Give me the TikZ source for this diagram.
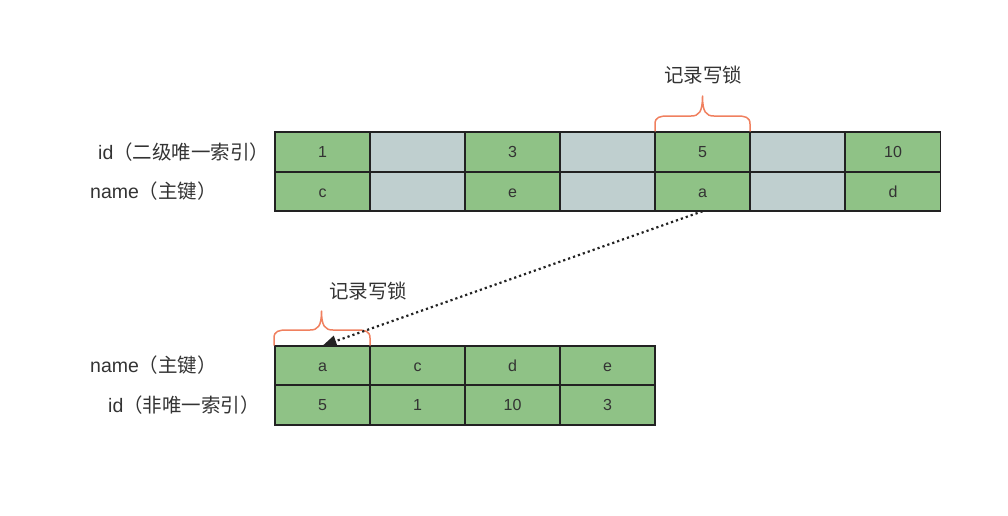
\documentclass[tikz,border=0pt]{standalone}
\usepackage{fontspec}
\setmainfont{Liberation Sans}
\newfontfamily\cjk{Noto Sans CJK SC}
\usetikzlibrary{arrows.meta,positioning}
\definecolor{cellgreen}{HTML}{8FC286}
\definecolor{cellgray}{HTML}{BFCFCF}
\definecolor{bracecol}{HTML}{F0805F}
\definecolor{txt}{HTML}{333333}
\definecolor{edge}{HTML}{222222}
\tikzset{
  cell/.style={draw=edge, line width=1.6pt, fill=cellgreen, minimum width=95pt,
    minimum height=39.5pt, inner sep=0pt, outer sep=0pt, text=txt,
    text height=11.5pt, text depth=0pt, font=\fontsize{16}{19}\selectfont},
  gapcell/.style={cell, fill=cellgray},
  lbl/.style={text=txt, font=\fontsize{19.5}{23}\selectfont, inner sep=0pt},
  lockbrace/.style={draw=bracecol, line width=1.5pt, line cap=round, line join=round},
  dotarrow/.style={draw=edge, line width=2.2pt, dash pattern=on 2.2pt off 3pt,
    -{Triangle[length=14pt,width=11pt]}}
}
\begin{document}
\begin{tikzpicture}[x=1pt,y=-1pt]
    \useasboundingbox (0,0) rectangle (1008,515);

    % secondary unique index
    \node[lbl,anchor=west] (idlbl) at (98,152) {id{\cjk（二级唯一索引）}};
    \node[lbl,anchor=west] (namelbl) at (90,191) {name{\cjk（主键）}};
    \node[cell] (t1a) at (322.5,152) {1};
    \node[cell] (t1b) at (322.5,191.5) {c};
    \node[gapcell] (t2a) at (417.5,152) {};
    \node[gapcell] (t2b) at (417.5,191.5) {};
    \node[cell] (t3a) at (512.5,152) {3};
    \node[cell] (t3b) at (512.5,191.5) {e};
    \node[gapcell] (t4a) at (607.5,152) {};
    \node[gapcell] (t4b) at (607.5,191.5) {};
    \node[cell] (t5a) at (702.5,152) {5};
    \node[cell] (t5b) at (702.5,191.5) {a};
    \node[gapcell] (t6a) at (797.5,152) {};
    \node[gapcell] (t6b) at (797.5,191.5) {};
    \node[cell] (t7a) at (893,152) {10};
    \node[cell] (t7b) at (893,191.5) {d};

    \draw[lockbrace] (655,131) -- (655,124) .. controls (655,117) and (660,116) .. (668,116)
        -- (691,116) .. controls (699,116) and (702.5,112) .. (702.5,96)
        .. controls (702.5,112) and (706,116) .. (714,116) -- (737,116)
        .. controls (745,116) and (750,117) .. (750,124) -- (750,131);
    \node[lbl] (lock1) at (703,75) {\cjk 记录写锁};

    % primary key index
    \node[lbl,anchor=west] (namelbl2) at (90,365) {name{\cjk（主键）}};
    \node[lbl,anchor=west] (idlbl2) at (108,405) {id{\cjk（非唯一索引）}};
    \node[cell] (b1a) at (322.5,365.5) {a};
    \node[cell] (b1b) at (322.5,405) {5};
    \node[cell] (b2a) at (417.5,365.5) {c};
    \node[cell] (b2b) at (417.5,405) {1};
    \node[cell] (b3a) at (512.5,365.5) {d};
    \node[cell] (b3b) at (512.5,405) {10};
    \node[cell] (b4a) at (607.5,365.5) {e};
    \node[cell] (b4b) at (607.5,405) {3};

    \draw[lockbrace] (274,345) -- (274,338) .. controls (274,331) and (279,330) .. (287,330)
        -- (310,330) .. controls (318,330) and (321.5,326) .. (321.5,311)
        .. controls (321.5,326) and (325,330) .. (333,330) -- (357,330)
        .. controls (365,330) and (370,331) .. (370,338) -- (370,345);
    \node[lbl] (lock2) at (368,291) {\cjk 记录写锁};

    \draw[dotarrow] (t5b.south) -- (b1a.north);
\end{tikzpicture}
\end{document}
